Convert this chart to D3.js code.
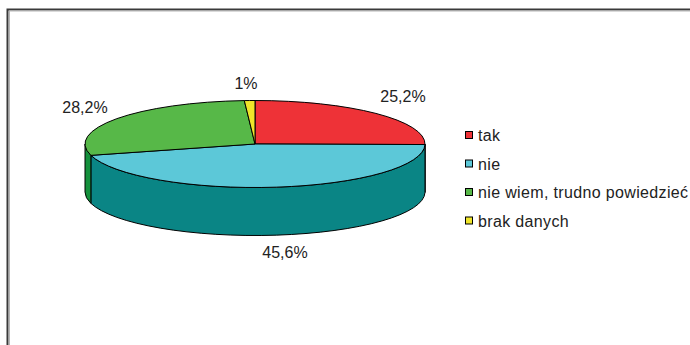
<!DOCTYPE html>
<html>
<head>
<meta charset="utf-8">
<script src="https://cdn.jsdelivr.net/npm/d3@7"></script>
<style>
  html, body { margin: 0; padding: 0; background: #fff; }
  svg { display: block; }
  text { font-family: "Liberation Sans", Arial, sans-serif; fill: #222; }
</style>
</head>
<body>
<svg id="chart" width="690" height="345"></svg>
<script>
// Survey answers (percent)
const categories = ["tak", "nie", "nie wiem, trudno powiedzieć", "brak danych"];
const values = [25.2, 45.6, 28.2, 1];
const valueLabels = ["25,2%", "45,6%", "28,2%", "1%"];
const topColors = ["#ee3237", "#5cc8d8", "#57b848", "#efe52a"];
const sideColors = ["#b0181c", "#0a8585", "#14913c", "#b0a810"];

const svg = d3.select("#chart");

// Outer frame (open to the right and bottom)
svg.append("path")
  .attr("d", "M7.5,345 L7.5,9.5 L690,9.5")
  .attr("fill", "none").attr("stroke", "#3a3a3a").attr("stroke-width", 2);
svg.append("path")
  .attr("d", "M9.5,345 L9.5,11 L690,11")
  .attr("fill", "none").attr("stroke", "#b5b5b5").attr("stroke-width", 1);

// 3D pie geometry: a tilted disc projected onto an ellipse
const cx = 255, cy = 144, rx = 170, ry = 43.5, depth = 48;
const px = a => cx + rx * Math.sin(a);
const py = a => cy - ry * Math.cos(a);

const pie = d3.pie().sort(null).value(d => d)
  .startAngle(0).endAngle(2 * Math.PI);
const arcs = pie(values);

const topColor = d3.scaleOrdinal().domain(categories).range(topColors);
const sideColor = d3.scaleOrdinal().domain(categories).range(sideColors);

const g = svg.append("g");

// Outer side walls (front half only: angles PI/2 .. 3PI/2)
arcs.forEach((d, i) => {
  const s = Math.max(d.startAngle, Math.PI / 2);
  const e = Math.min(d.endAngle, 3 * Math.PI / 2);
  if (e <= s) return;
  const large = (e - s) > Math.PI ? 1 : 0;
  const dStr = `M${px(s)},${py(s)} A${rx},${ry} 0 ${large} 1 ${px(e)},${py(e)} ` +
               `L${px(e)},${py(e) + depth} A${rx},${ry} 0 ${large} 0 ${px(s)},${py(s) + depth} Z`;
  g.append("path")
    .attr("d", dStr)
    .attr("fill", sideColor(categories[i]))
    .attr("stroke", "#000").attr("stroke-width", 1).attr("stroke-linejoin", "round");
});

// Top faces
arcs.forEach((d, i) => {
  const s = d.startAngle, e = d.endAngle;
  const large = (e - s) > Math.PI ? 1 : 0;
  const dStr = `M${cx},${cy} L${px(s)},${py(s)} A${rx},${ry} 0 ${large} 1 ${px(e)},${py(e)} Z`;
  g.append("path")
    .attr("d", dStr)
    .attr("fill", topColor(categories[i]))
    .attr("stroke", "#000").attr("stroke-width", 1).attr("stroke-linejoin", "round");
});

// Percentage labels placed outside the slices
const labelPos = [
  { x: 403, y: 102 },
  { x: 285, y: 258 },
  { x: 85, y: 113 },
  { x: 246, y: 89 }
];
arcs.forEach((d, i) => {
  svg.append("text")
    .attr("x", labelPos[i].x).attr("y", labelPos[i].y)
    .attr("text-anchor", "middle")
    .attr("font-size", 16)
    .text(valueLabels[i]);
});

// Legend
const legend = svg.append("g").attr("transform", "translate(465,0)");
const legendY = d3.scalePoint().domain(categories).range([141, 226.5]);
categories.forEach(c => {
  const y = legendY(c);
  legend.append("rect")
    .attr("x", 0.5).attr("y", y - 9.5)
    .attr("width", 7).attr("height", 7)
    .attr("fill", topColor(c))
    .attr("stroke", "#000").attr("stroke-width", 1);
  legend.append("text")
    .attr("x", 13).attr("y", y)
    .attr("font-size", 16)
    .attr("letter-spacing", 0.35)
    .text(c);
});
</script>
</body>
</html>
